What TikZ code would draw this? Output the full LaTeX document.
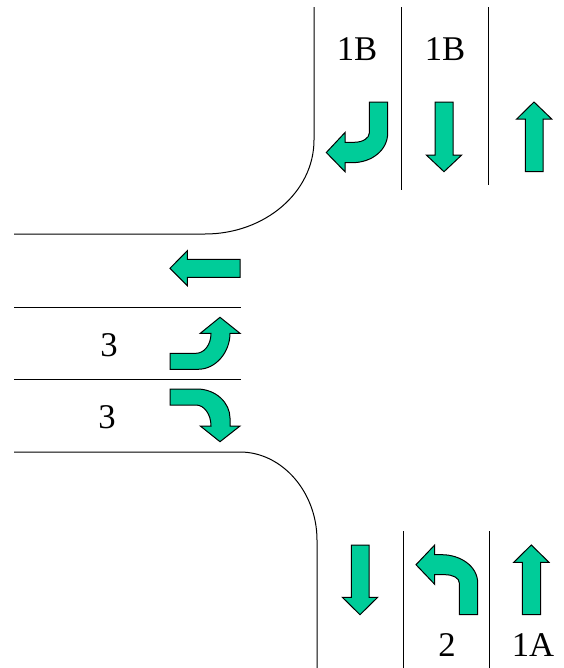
\documentclass[tikz,border=0pt]{standalone}
\usepackage{fontspec}
\setmainfont{Liberation Serif}
\definecolor{arrowgreen}{HTML}{00CC99}
\tikzset{
  road/.style={draw=black,line width=0.75pt},
  turnarrow/.style={draw=black,fill=arrowgreen,line width=0.75pt,line join=miter},
  lanelabel/.style={anchor=base,inner sep=0pt,font=\fontsize{26pt}{26pt}\selectfont}
}
\begin{document}
\begin{tikzpicture}[x=0.75pt,y=-0.75pt]
\useasboundingbox (0,0) rectangle (564,668);
% road edges
\draw[road] (314,7) -- (314,140) .. controls (314,192) and (265,234) .. (205,234) -- (14,234);
\draw[road] (14,452) -- (240,452) .. controls (282,452) and (317,492) .. (317,540) -- (317,668);
\draw[road] (14,307) -- (240.5,307);
\draw[road] (14,379.5) -- (240.5,379.5);
% lane dividers
\draw[road] (401,7) -- (401,190);
\draw[road] (488,7) -- (488,185);
\draw[road] (403,531) -- (403,668);
\draw[road] (489,531) -- (489,668);
% top arrows
\draw[turnarrow] (369.3,102) -- (387.7,102) -- (387.7,133) .. controls (387.7,150) and (372,162.7) .. (352,162.7) -- (345,162.7) -- (345,171.7) -- (326.3,152.5) -- (345,132.5) -- (345,142.3) -- (354,142.3) .. controls (363,142.3) and (369.3,138) .. (369.3,133) -- cycle;
\draw[turnarrow] (435,102) -- (453,102) -- (453,155) -- (461.7,155) -- (444,171.7) -- (426.3,155) -- (435,155) -- cycle;
\draw[turnarrow] (525.3,171.7) -- (543,171.7) -- (543,119) -- (551.7,119) -- (534,102) -- (516.7,119) -- (525.3,119) -- cycle;
% left arrows
\draw[turnarrow] (240,259.3) -- (187.3,259.3) -- (187.3,250.7) -- (170,268.3) -- (187.3,285.7) -- (187.3,277.3) -- (240,277.3) -- cycle;
\draw[turnarrow] (170,353.3) -- (196,353.3) .. controls (204,353.3) and (211,345) .. (211,333.3) -- (200.3,333.3) -- (220,317.3) -- (240,333.3) -- (230,333.3) .. controls (230,352) and (216,369.3) .. (198,369.3) -- (170,369.3) -- cycle;
\draw[turnarrow] (170,389) -- (197,389) .. controls (216,389) and (230,403) .. (230,418) -- (230,426) -- (240,426) -- (220,441.7) -- (200.3,426) -- (211,426) .. controls (211,414) and (204,405) .. (196,405) -- (170,405) -- cycle;
% bottom arrows
\draw[turnarrow] (351.3,545) -- (369,545) -- (369,597.3) -- (377.7,597.3) -- (360,614.7) -- (342.3,597.3) -- (351.3,597.3) -- cycle;
\draw[turnarrow] (459.3,614.7) -- (477.7,614.7) -- (477.7,583) .. controls (477.7,566) and (460,554.7) .. (442,554.7) -- (434.7,554.7) -- (434.7,545) -- (416,564.7) -- (434.7,584.3) -- (434.7,574.7) -- (445,574.7) .. controls (453,574.7) and (459.3,578) .. (459.3,583) -- cycle;
\draw[turnarrow] (522.3,614.7) -- (540.7,614.7) -- (540.7,562.3) -- (549,562.3) -- (531.3,545) -- (513.7,562.3) -- (522.3,562.3) -- cycle;
% labels
\node[lanelabel] (l1) at (357,60) {1B};
\node[lanelabel] (l2) at (445,60) {1B};
\node[lanelabel] (l3) at (109,356) {3};
\node[lanelabel] (l4) at (107,428) {3};
\node[lanelabel] (l5) at (447,656) {2};
\node[lanelabel] (l6) at (533,656) {1A};
\end{tikzpicture}
\end{document}
